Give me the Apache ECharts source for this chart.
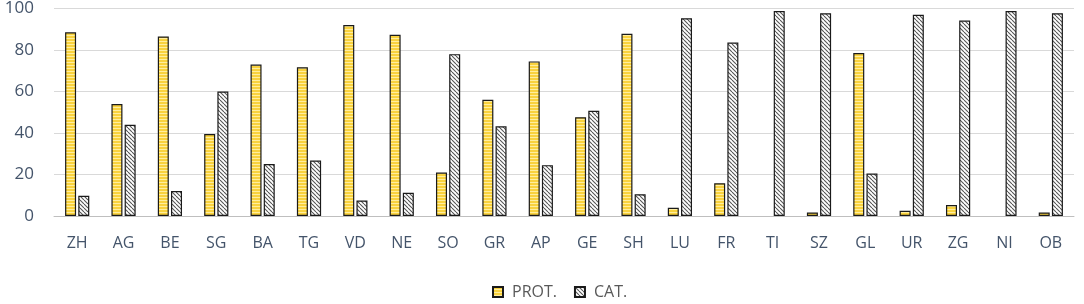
<!DOCTYPE html>
<html><head><meta charset="utf-8">
<script src="https://cdn.jsdelivr.net/npm/echarts@6/dist/echarts.min.js"></script>
<style>html,body{margin:0;padding:0;background:#fff}#c{width:1084px;height:304px}</style>
</head><body><div id="c"></div>
<script>
const categories = ['ZH','AG','BE','SG','BA','TG','VD','NE','SO','GR','AP','GE','SH','LU','FR','TI','SZ','GL','UR','ZG','NI','OB'];
const prot = [88.5,54,86.5,39.5,73,71.7,92,87.3,21,56,74.5,47.6,87.8,4,15.8,0,1.7,78.5,2.5,5.3,0,1.7];
const cat = [9.7,44,12,60,25,26.7,7.5,11.2,78,43.2,24.5,50.7,10.5,95.3,83.6,98.8,97.7,20.5,97,94.2,98.8,97.7];
const yTicks = [0,20,40,60,80,100];

function protPattern(){
  const c=document.createElement('canvas');c.width=4;c.height=3;
  const x=c.getContext('2d');
  x.fillStyle='#F9D23E';x.fillRect(0,0,4,3);
  x.fillStyle='#FFEE9E';x.fillRect(0,2,4,1);
  return c;
}
function catPattern(){
  const s=4;const c=document.createElement('canvas');c.width=s;c.height=s;
  const x=c.getContext('2d');
  x.fillStyle='#ffffff';x.fillRect(0,0,s,s);
  x.strokeStyle='#555555';x.lineWidth=1.1;
  for(let k=-s;k<=s;k+=s){x.beginPath();x.moveTo(k,0);x.lineTo(k+s,s);x.stroke();}
  return c;
}
const protFill={image:protPattern(),repeat:'repeat'};
const catFill={image:catPattern(),repeat:'repeat'};
const txt='#44546A';
const zeroAsEmpty = v => (v === 0 ? null : v);
const chart=echarts.init(document.getElementById('c'));
chart.setOption({
  animation:false,
  textStyle:{fontFamily:'Open Sans'},
  grid:{left:54,right:10,top:8,bottom:88},
  legend:{bottom:-1,left:487,itemWidth:10,itemHeight:10,itemGap:17,
    textStyle:{color:'#595959',fontSize:16,fontFamily:'Open Sans',padding:[0,0,0,4]},
    data:[{name:'PROT.',icon:'rect'},{name:'CAT.',icon:'rect'}]},
  xAxis:{type:'category',data:categories,
    axisLine:{lineStyle:{color:'#BFBFBF'}},axisTick:{show:false},
    axisLabel:{color:txt,fontSize:16,margin:19}},
  yAxis:{type:'value',min:0,max:100,interval:20,
    axisLine:{show:false},axisTick:{show:false},
    splitLine:{lineStyle:{color:'#D9D9D9',width:1.2}},
    axisLabel:{color:txt,fontSize:17,margin:20,
      formatter:v=>yTicks.includes(v)?String(v):''}},
  series:[
    {name:'PROT.',type:'bar',data:prot.map(zeroAsEmpty),barWidth:11,barGap:'20%',
     itemStyle:{color:protFill,borderColor:'#1a1a1a',borderWidth:1.2}},
    {name:'CAT.',type:'bar',data:cat.map(zeroAsEmpty),barWidth:11,
     itemStyle:{color:catFill,borderColor:'#1a1a1a',borderWidth:1.2}}
  ]
});
</script></body></html>
